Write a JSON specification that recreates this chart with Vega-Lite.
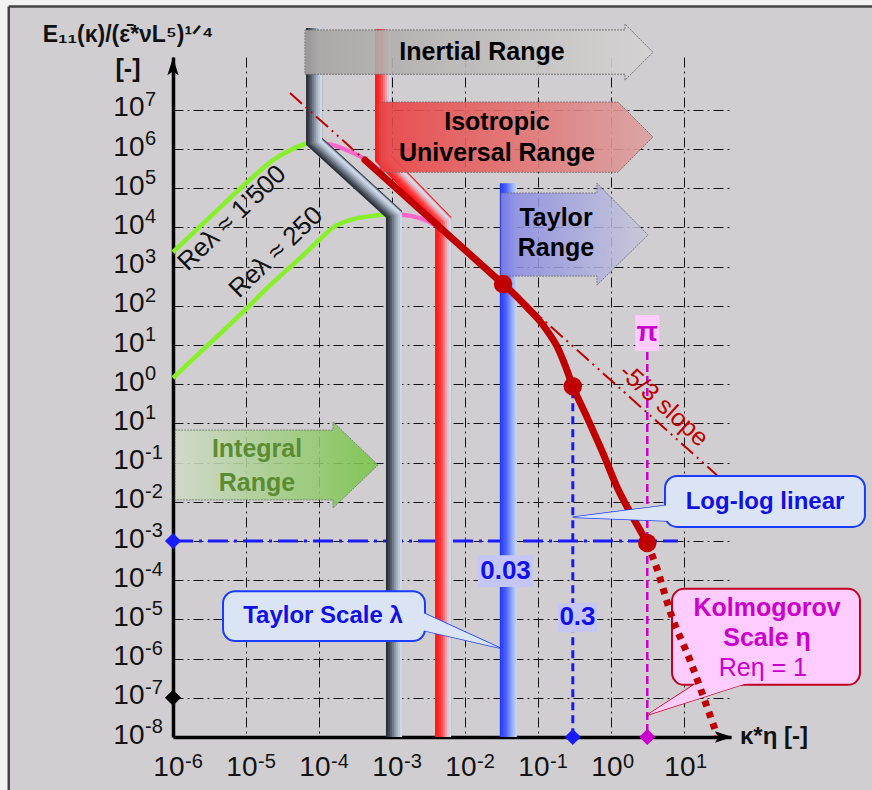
{
  "$schema": "https://vega.github.io/schema/vega-lite/v6.json",
  "width": 558,
  "height": 680,
  "autosize": {"type": "none"},
  "padding": {"left": 173, "top": 57, "right": 141, "bottom": 53},
  "background": "#d0ced0",
  "config": {"view": {"stroke": null}, "font": "Liberation Sans"},
  "datasets": {
    "margin": [
      {"x": -8.4, "y": 18.75, "x2": 4.2, "y2": 18.75, "w": 7},
      {"x": -8.32, "y": 18.75, "x2": -8.32, "y2": -2, "w": 9}
    ],
    "frame": [
      {"x": -8.25, "y": 18.64, "x2": 4.2, "y2": 18.64},
      {"x": -8.25, "y": 18.64, "x2": -8.25, "y2": -2}
    ],
    "xExponents": [
      {"x": -6, "y": 0, "t": "-6"}, {"x": -5, "y": 0, "t": "-5"}, {"x": -4, "y": 0, "t": "-4"},
      {"x": -3, "y": 0, "t": "-3"}, {"x": -2, "y": 0, "t": "-2"}, {"x": -1, "y": 0, "t": "-1"},
      {"x": 0, "y": 0, "t": "0"}, {"x": 1, "y": 0, "t": "1"}
    ],
    "yExponents": [
      {"x": -6, "y": 0, "t": "-8"}, {"x": -6, "y": 1, "t": "-7"}, {"x": -6, "y": 2, "t": "-6"},
      {"x": -6, "y": 3, "t": "-5"}, {"x": -6, "y": 4, "t": "-4"}, {"x": -6, "y": 5, "t": "-3"},
      {"x": -6, "y": 6, "t": "-2"}, {"x": -6, "y": 7, "t": "-1"}, {"x": -6, "y": 8, "t": "1"},
      {"x": -6, "y": 9, "t": "0"}, {"x": -6, "y": 10, "t": "1"}, {"x": -6, "y": 11, "t": "2"},
      {"x": -6, "y": 12, "t": "3"}, {"x": -6, "y": 13, "t": "4"}, {"x": -6, "y": 14, "t": "5"},
      {"x": -6, "y": 15, "t": "6"}, {"x": -6, "y": 16, "t": "7"}
    ],
    "lambdaSpectra": [
      {"curve": "Re1500", "seq": 1, "x": -6.0, "y": 12.37},
      {"curve": "Re1500", "seq": 2, "x": -5.452, "y": 13.34},
      {"curve": "Re1500", "seq": 3, "x": -4.904, "y": 14.29},
      {"curve": "Re1500", "seq": 4, "x": -4.63, "y": 14.72},
      {"curve": "Re1500", "seq": 5, "x": -4.397, "y": 14.97},
      {"curve": "Re1500", "seq": 6, "x": -4.192, "y": 15.13},
      {"curve": "Re1500", "seq": 7, "x": -4.068, "y": 15.18},
      {"curve": "Re250", "seq": 1, "x": -6.0, "y": 9.16},
      {"curve": "Re250", "seq": 2, "x": -5.493, "y": 10.05},
      {"curve": "Re250", "seq": 3, "x": -4.973, "y": 10.97},
      {"curve": "Re250", "seq": 4, "x": -4.712, "y": 11.45},
      {"curve": "Re250", "seq": 5, "x": -4.26, "y": 12.22},
      {"curve": "Re250", "seq": 6, "x": -3.986, "y": 12.7},
      {"curve": "Re250", "seq": 7, "x": -3.822, "y": 12.98},
      {"curve": "Re250", "seq": 8, "x": -3.575, "y": 13.19},
      {"curve": "Re250", "seq": 9, "x": -3.301, "y": 13.29},
      {"curve": "Re250", "seq": 10, "x": -3.055, "y": 13.34}
    ],
    "rollOff": [
      {"curve": "Re1500", "seq": 1, "x": -3.986, "y": 15.15},
      {"curve": "Re1500", "seq": 2, "x": -3.808, "y": 15.1},
      {"curve": "Re1500", "seq": 3, "x": -3.616, "y": 14.97},
      {"curve": "Re1500", "seq": 4, "x": -3.397, "y": 14.77},
      {"curve": "Re1500", "seq": 5, "x": -3.192, "y": 14.49},
      {"curve": "Re250", "seq": 1, "x": -3.0, "y": 13.34},
      {"curve": "Re250", "seq": 2, "x": -2.726, "y": 13.29},
      {"curve": "Re250", "seq": 3, "x": -2.507, "y": 13.16},
      {"curve": "Re250", "seq": 4, "x": -2.342, "y": 12.98}
    ],
    "pipes": [
      {"pipe": "inertial", "seq": 1, "x": -4.068, "y": 18.09},
      {"pipe": "inertial", "seq": 2, "x": -4.068, "y": 15.2},
      {"pipe": "inertial", "seq": 3, "x": -2.973, "y": 13.34},
      {"pipe": "inertial", "seq": 4, "x": -2.973, "y": 0},
      {"pipe": "isotropic", "seq": 1, "x": -3.123, "y": 18.06},
      {"pipe": "isotropic", "seq": 2, "x": -3.123, "y": 14.77},
      {"pipe": "isotropic", "seq": 3, "x": -2.301, "y": 13.19},
      {"pipe": "isotropic", "seq": 4, "x": -2.301, "y": 0}
    ],
    "taylorPipe": [{"x": -1.523, "x2": -1.29, "y": 14.13, "y2": 0}],
    "slope": [
      {"seq": 1, "x": -4.397, "y": 16.43},
      {"seq": 2, "x": 1.452, "y": 6.68}
    ],
    "spectrum": [
      {"seq": 1, "x": -3.37, "y": 14.72},
      {"seq": 2, "x": -1.479, "y": 11.556},
      {"seq": 3, "x": -1.342, "y": 11.33},
      {"seq": 4, "x": -1.137, "y": 10.94},
      {"seq": 5, "x": -0.973, "y": 10.61},
      {"seq": 6, "x": -0.836, "y": 10.26},
      {"seq": 7, "x": -0.74, "y": 9.97},
      {"seq": 8, "x": -0.63, "y": 9.49},
      {"seq": 9, "x": -0.523, "y": 8.95},
      {"seq": 10, "x": -0.329, "y": 8.16},
      {"seq": 11, "x": -0.11, "y": 7.24},
      {"seq": 12, "x": 0.082, "y": 6.38},
      {"seq": 13, "x": 0.26, "y": 5.74},
      {"seq": 14, "x": 0.397, "y": 5.28},
      {"seq": 15, "x": 0.497, "y": 4.95}
    ],
    "dissipation": [
      {"seq": 1, "x": 0.497, "y": 4.95},
      {"seq": 2, "x": 0.603, "y": 4.44},
      {"seq": 3, "x": 0.836, "y": 3.06},
      {"seq": 4, "x": 1.082, "y": 1.96},
      {"seq": 5, "x": 1.315, "y": 0.77},
      {"seq": 6, "x": 1.452, "y": 0.05}
    ],
    "markers": [
      {"x": -1.479, "y": 11.556},
      {"x": -0.523, "y": 8.95},
      {"x": 0.497, "y": 4.95}
    ],
    "levelLine": [{"x": -6, "x2": 0.918, "y": 5}],
    "scale03": [{"x": -0.523, "y": 8.85, "y2": 0}],
    "scalePi": [{"x": 0.497, "y": 9.82, "y2": 0}],
    "diamonds": [
      {"kind": "blue", "x": -6, "y": 5},
      {"kind": "black", "x": -6, "y": 1},
      {"kind": "blue", "x": -0.523, "y": 0},
      {"kind": "magenta", "x": 0.497, "y": 0}
    ],
    "inertialArrow": [
      {"x": -4.192, "y": 18.04, "y2": 16.91},
      {"x": 0.192, "y": 18.04, "y2": 16.91},
      {"x": 0.192, "y": 18.19, "y2": 16.76},
      {"x": 0.575, "y": 17.47, "y2": 17.47}
    ],
    "isotropicArrow": [
      {"x": -3.164, "y": 16.2, "y2": 14.41},
      {"x": 0.096, "y": 16.2, "y2": 14.41},
      {"x": 0.575, "y": 15.31, "y2": 15.31}
    ],
    "taylorArrow": [
      {"x": -1.507, "y": 13.88, "y2": 11.76},
      {"x": -0.192, "y": 13.88, "y2": 11.76},
      {"x": -0.192, "y": 14.13, "y2": 11.53},
      {"x": 0.507, "y": 12.81, "y2": 12.81}
    ],
    "integralArrow": [
      {"x": -5.97, "y": 7.83, "y2": 6.05},
      {"x": -3.808, "y": 7.83, "y2": 6.05},
      {"x": -3.808, "y": 8.04, "y2": 5.84},
      {"x": -3.192, "y": 6.94, "y2": 6.94}
    ],
    "rangeLabels": [
      {"text": "Inertial Range", "x": -1.767, "y": 17.47},
      {"text": "Isotropic", "x": -1.562, "y": 15.69},
      {"text": "Universal Range", "x": -1.562, "y": 14.9},
      {"text": "Taylor", "x": -0.753, "y": 13.24},
      {"text": "Range", "x": -0.753, "y": 12.47}
    ],
    "integralLabels": [
      {"text": "Integral", "x": -4.849, "y": 7.35},
      {"text": "Range", "x": -4.849, "y": 6.48}
    ],
    "valueBoxes": [
      {"x": -1.822, "x2": -1.068, "y": 4.64, "y2": 3.83},
      {"x": -0.726, "x2": -0.192, "y": 3.42, "y2": 2.68}
    ],
    "valueLabels": [
      {"text": "0.03", "x": -1.445, "y": 4.23},
      {"text": "0.3", "x": -0.459, "y": 3.05}
    ],
    "piBox": [{"x": 0.333, "x2": 0.661, "y": 10.77, "y2": 9.85}],
    "piLabel": [{"text": "π", "x": 0.497, "y": 10.31}],
    "kolBox": [{"x": 0.836, "x2": 3.411, "y": 3.78, "y2": 1.33}],
    "kolPointer": [
      {"y": 1.4, "x": 1.192, "x2": 1.904},
      {"y": 0.56, "x": 0.497, "x2": 0.497}
    ],
    "kolTitle": [
      {"text": "Kolmogorov", "x": 2.137, "y": 3.29},
      {"text": "Scale η", "x": 2.137, "y": 2.53}
    ],
    "kolRe": [{"text": "Reη = 1", "x": 2.08, "y": 1.76}],
    "logBox": [{"x": 0.74, "x2": 3.479, "y": 6.66, "y2": 5.36}],
    "logPointer": [
      {"x": -0.523, "y": 5.61, "y2": 5.61},
      {"x": 0.8, "y": 5.92, "y2": 5.51}
    ],
    "logLabel": [{"text": "Log-log linear", "x": 2.11, "y": 5.99}],
    "tsBox": [{"x": -5.315, "x2": -2.548, "y": 3.72, "y2": 2.45}],
    "tsPointer": [
      {"x": -2.6, "y": 3.19, "y2": 2.73},
      {"x": -1.523, "y": 2.27, "y2": 2.27}
    ],
    "tsLabel": [{"text": "Taylor Scale λ", "x": -3.945, "y": 3.09}],
    "reLabels": [
      {"text": "Reλ ≈ 1’500", "x": -5.192, "y": 13.24},
      {"text": "Reλ ≈ 250", "x": -4.589, "y": 12.37}
    ],
    "slopeLabel": [{"text": "-5/3 slope", "x": 0.726, "y": 8.47}],
    "yArrow": [{"x": -6, "y": 17.07}],
    "xArrow": [{"x": 1.521, "y": 0}],
    "yTitle": [
      {"text": "E₁₁(κ)/(ε̄*νL⁵)¹ᐟ⁴", "x": -6.616, "y": 17.91, "size": 23},
      {"text": "[-]", "x": -6.616, "y": 17.04, "size": 25}
    ],
    "xTitle": [{"text": "κ*η [-]", "x": 1.767, "y": 0}]
  },
  "encoding": {
    "x": {
      "field": "x",
      "type": "quantitative",
      "scale": {"domain": [-6, 1.644], "nice": false, "zero": false},
      "axis": {
        "values": [-6, -5, -4, -3, -2, -1, 0, 1],
        "labelExpr": "'10'",
        "title": null,
        "ticks": false,
        "domainColor": "#000000",
        "domainWidth": 3.5,
        "grid": true,
        "gridColor": "#111111",
        "gridDash": [10, 4, 2, 4],
        "gridWidth": 1,
        "labelFont": "Liberation Sans",
        "labelFontSize": 28,
        "labelColor": "#111111",
        "labelPadding": 16,
        "labelAlign": "right",
        "labelOffset": 11,
        "labelFlush": false,
        "labelOverlap": false
      }
    },
    "y": {
      "field": "y",
      "type": "quantitative",
      "scale": {"domain": [0, 17.35], "nice": false, "zero": false},
      "axis": {
        "values": [0, 1, 2, 3, 4, 5, 6, 7, 8, 9, 10, 11, 12, 13, 14, 15, 16],
        "labelExpr": "'10'",
        "title": null,
        "ticks": false,
        "domainColor": "#000000",
        "domainWidth": 3.5,
        "grid": true,
        "gridColor": "#111111",
        "gridDash": [10, 4, 2, 4],
        "gridWidth": 1,
        "labelFont": "Liberation Sans",
        "labelFontSize": 28,
        "labelColor": "#111111",
        "labelPadding": 29,
        "labelBaseline": "middle",
        "labelOffset": -2,
        "labelFlush": false,
        "labelOverlap": false
      }
    }
  },
  "layer": [
    {
      "data": {"name": "margin"},
      "mark": {"type": "rule", "color": "#f2f2f2"},
      "encoding": {"x2": {"field": "x2"}, "y2": {"field": "y2"}, "strokeWidth": {"field": "w", "type": "quantitative", "scale": null}}
    },
    {
      "data": {"name": "frame"},
      "mark": {"type": "rule", "color": "#444444", "strokeWidth": 2.5},
      "encoding": {"x2": {"field": "x2"}, "y2": {"field": "y2"}}
    },
    {
      "data": {"name": "xExponents"},
      "mark": {"type": "text", "font": "Liberation Sans", "fontSize": 20, "color": "#111111", "align": "left", "baseline": "middle", "dx": 12, "dy": 25},
      "encoding": {"text": {"field": "t"}}
    },
    {
      "data": {"name": "yExponents"},
      "mark": {"type": "text", "font": "Liberation Sans", "fontSize": 20, "color": "#111111", "align": "left", "baseline": "middle", "dx": -28, "dy": -10},
      "encoding": {"text": {"field": "t"}}
    },
    {
      "data": {"name": "levelLine"},
      "mark": {"type": "rule", "color": "#1a1aff", "strokeWidth": 3, "strokeDash": [20, 6, 3, 6]},
      "encoding": {"x2": {"field": "x2"}}
    },
    {
      "data": {"name": "lambdaSpectra"},
      "mark": {"type": "line", "color": "#88f02a", "strokeWidth": 4.5, "interpolate": "monotone"},
      "encoding": {"detail": {"field": "curve"}, "order": {"field": "seq"}}
    },
    {
      "data": {"name": "rollOff"},
      "mark": {"type": "line", "color": "#ff66cc", "strokeWidth": 4.5, "interpolate": "monotone"},
      "encoding": {"detail": {"field": "curve"}, "order": {"field": "seq"}}
    },
    {
      "data": {"name": "pipes"},
      "mark": {"type": "line", "strokeWidth": 16, "strokeJoin": "miter", "strokeCap": "butt", "xOffset": 0},
      "encoding": {"order": {"field": "seq"}, "color": {"field": "pipe", "scale": {"domain": ["inertial", "isotropic"], "range": ["#2c3038", "#ff1a1a"]}, "legend": null}}
    },
    {
      "data": {"name": "pipes"},
      "mark": {"type": "line", "strokeWidth": 14, "strokeJoin": "miter", "strokeCap": "butt", "xOffset": 1},
      "encoding": {"order": {"field": "seq"}, "color": {"field": "pipe", "scale": {"domain": ["inertial", "isotropic"], "range": ["#3f454f", "#ff2626"]}, "legend": null}}
    },
    {
      "data": {"name": "pipes"},
      "mark": {"type": "line", "strokeWidth": 12, "strokeJoin": "miter", "strokeCap": "butt", "xOffset": 2},
      "encoding": {"order": {"field": "seq"}, "color": {"field": "pipe", "scale": {"domain": ["inertial", "isotropic"], "range": ["#565e6a", "#ff3636"]}, "legend": null}}
    },
    {
      "data": {"name": "pipes"},
      "mark": {"type": "line", "strokeWidth": 10, "strokeJoin": "miter", "strokeCap": "butt", "xOffset": 3},
      "encoding": {"order": {"field": "seq"}, "color": {"field": "pipe", "scale": {"domain": ["inertial", "isotropic"], "range": ["#707a88", "#fc5056"]}, "legend": null}}
    },
    {
      "data": {"name": "pipes"},
      "mark": {"type": "line", "strokeWidth": 8, "strokeJoin": "miter", "strokeCap": "butt", "xOffset": 4},
      "encoding": {"order": {"field": "seq"}, "color": {"field": "pipe", "scale": {"domain": ["inertial", "isotropic"], "range": ["#8c97a6", "#f2787e"]}, "legend": null}}
    },
    {
      "data": {"name": "pipes"},
      "mark": {"type": "line", "strokeWidth": 6, "strokeJoin": "miter", "strokeCap": "butt", "xOffset": 5},
      "encoding": {"order": {"field": "seq"}, "color": {"field": "pipe", "scale": {"domain": ["inertial", "isotropic"], "range": ["#a6b2c2", "#e8a2aa"]}, "legend": null}}
    },
    {
      "data": {"name": "pipes"},
      "mark": {"type": "line", "strokeWidth": 4, "strokeJoin": "miter", "strokeCap": "butt", "xOffset": 6},
      "encoding": {"order": {"field": "seq"}, "color": {"field": "pipe", "scale": {"domain": ["inertial", "isotropic"], "range": ["#bcc8d8", "#dcc4d2"]}, "legend": null}}
    },
    {
      "data": {"name": "pipes"},
      "mark": {"type": "line", "strokeWidth": 2, "strokeJoin": "miter", "strokeCap": "butt", "xOffset": 7},
      "encoding": {"order": {"field": "seq"}, "color": {"field": "pipe", "scale": {"domain": ["inertial", "isotropic"], "range": ["#cdd8e8", "#d2dcee"]}, "legend": null}}
    },
    {
      "data": {"name": "taylorPipe"},
      "mark": {
        "type": "rect",
        "fill": {"gradient": "linear", "x1": 0, "y1": 0, "x2": 1, "y2": 0, "stops": [
          {"offset": 0, "color": "#2236ff"},
          {"offset": 0.4, "color": "#5068ff"},
          {"offset": 0.75, "color": "#9cb2f2"},
          {"offset": 1, "color": "#ccd8f0"}
        ]}
      },
      "encoding": {"x2": {"field": "x2"}, "y2": {"field": "y2"}}
    },
    {
      "data": {"name": "slope"},
      "mark": {"type": "line", "color": "#c00000", "strokeWidth": 2, "strokeDash": [16, 5, 2, 5, 2, 5]},
      "encoding": {"order": {"field": "seq"}}
    },
    {
      "data": {"name": "inertialArrow"},
      "mark": {
        "type": "area",
        "opacity": 0.9,
        "stroke": "#6a6a6a",
        "strokeWidth": 1,
        "strokeDash": [2, 1],
        "fill": {"gradient": "linear", "x1": 0, "y1": 0, "x2": 1, "y2": 0, "stops": [
          {"offset": 0, "color": "#a8a4a4"},
          {"offset": 1, "color": "#d6d4d4"}
        ]}
      },
      "encoding": {"y2": {"field": "y2"}}
    },
    {
      "data": {"name": "isotropicArrow"},
      "mark": {
        "type": "area",
        "opacity": 0.9,
        "stroke": "#7a6a6a",
        "strokeWidth": 1,
        "strokeDash": [2, 1],
        "fill": {"gradient": "linear", "x1": 0, "y1": 0, "x2": 1, "y2": 0, "stops": [
          {"offset": 0, "color": "#ec4040"},
          {"offset": 1, "color": "#dca2a2"}
        ]}
      },
      "encoding": {"y2": {"field": "y2"}}
    },
    {
      "data": {"name": "taylorArrow"},
      "mark": {
        "type": "area",
        "opacity": 0.85,
        "stroke": "#6a6a7a",
        "strokeWidth": 1,
        "strokeDash": [2, 1],
        "fill": {"gradient": "linear", "x1": 0, "y1": 0, "x2": 1, "y2": 0, "stops": [
          {"offset": 0, "color": "#8486e4"},
          {"offset": 1, "color": "#c8c8da"}
        ]}
      },
      "encoding": {"y2": {"field": "y2"}}
    },
    {
      "data": {"name": "integralArrow"},
      "mark": {
        "type": "area",
        "opacity": 0.88,
        "stroke": "#6a7a6a",
        "strokeWidth": 1,
        "strokeDash": [2, 1],
        "fill": {"gradient": "linear", "x1": 0, "y1": 0, "x2": 1, "y2": 0, "stops": [
          {"offset": 0, "color": "#d2dacb"},
          {"offset": 1, "color": "#78c446"}
        ]}
      },
      "encoding": {"y2": {"field": "y2"}}
    },
    {
      "data": {"name": "rangeLabels"},
      "mark": {"type": "text", "font": "Liberation Sans", "fontSize": 25, "fontWeight": "bold", "color": "#000000"},
      "encoding": {"text": {"field": "text"}}
    },
    {
      "data": {"name": "integralLabels"},
      "mark": {"type": "text", "font": "Liberation Sans", "fontSize": 25, "fontWeight": "bold", "color": "#5a8c32"},
      "encoding": {"text": {"field": "text"}}
    },
    {
      "data": {"name": "scale03"},
      "mark": {"type": "rule", "color": "#1a1aee", "strokeWidth": 3, "strokeDash": [8, 5]},
      "encoding": {"y2": {"field": "y2"}}
    },
    {
      "data": {"name": "scalePi"},
      "mark": {"type": "rule", "color": "#cc00cc", "strokeWidth": 2.5, "strokeDash": [8, 4]},
      "encoding": {"y2": {"field": "y2"}}
    },
    {
      "data": {"name": "diamonds"},
      "mark": {"type": "point", "shape": "diamond", "filled": true, "size": 260, "opacity": 1},
      "encoding": {"color": {"field": "kind", "scale": {"domain": ["blue", "black", "magenta"], "range": ["#1a1aff", "#000000", "#cc00cc"]}, "legend": null}}
    },
    {
      "data": {"name": "valueBoxes"},
      "mark": {"type": "rect", "color": "#c6c6f6"},
      "encoding": {"x2": {"field": "x2"}, "y2": {"field": "y2"}}
    },
    {
      "data": {"name": "valueLabels"},
      "mark": {"type": "text", "font": "Liberation Sans", "fontSize": 26, "fontWeight": "bold", "color": "#1010ee"},
      "encoding": {"text": {"field": "text"}}
    },
    {
      "data": {"name": "piBox"},
      "mark": {"type": "rect", "color": "#ffccff"},
      "encoding": {"x2": {"field": "x2"}, "y2": {"field": "y2"}}
    },
    {
      "data": {"name": "piLabel"},
      "mark": {"type": "text", "font": "Liberation Sans", "fontSize": 28, "fontWeight": "bold", "color": "#cc00cc"},
      "encoding": {"text": {"field": "text"}}
    },
    {
      "data": {"name": "kolPointer"},
      "mark": {"type": "area", "orient": "horizontal", "fill": "#ffccff", "stroke": "#c00020", "strokeWidth": 1.5},
      "encoding": {"x2": {"field": "x2"}}
    },
    {
      "data": {"name": "kolBox"},
      "mark": {"type": "rect", "fill": "#ffccff", "stroke": "#c00020", "strokeWidth": 2, "cornerRadius": 12},
      "encoding": {"x2": {"field": "x2"}, "y2": {"field": "y2"}}
    },
    {
      "data": {"name": "kolPointer"},
      "mark": {"type": "area", "orient": "horizontal", "fill": "#ffccff"},
      "encoding": {"x2": {"field": "x2"}}
    },
    {
      "data": {"name": "kolTitle"},
      "mark": {"type": "text", "font": "Liberation Sans", "fontSize": 25, "fontWeight": "bold", "color": "#cc00cc"},
      "encoding": {"text": {"field": "text"}}
    },
    {
      "data": {"name": "kolRe"},
      "mark": {"type": "text", "font": "Liberation Sans", "fontSize": 25, "color": "#cc00cc"},
      "encoding": {"text": {"field": "text"}}
    },
    {
      "data": {"name": "spectrum"},
      "mark": {"type": "line", "color": "#c00000", "strokeWidth": 7, "interpolate": "monotone", "strokeCap": "round"},
      "encoding": {"order": {"field": "seq"}}
    },
    {
      "data": {"name": "dissipation"},
      "mark": {"type": "line", "color": "#c00000", "strokeWidth": 7, "strokeDash": [6, 6], "interpolate": "monotone"},
      "encoding": {"order": {"field": "seq"}}
    },
    {
      "data": {"name": "markers"},
      "mark": {"type": "point", "shape": "circle", "filled": true, "size": 340, "color": "#c00000", "opacity": 1}
    },
    {
      "data": {"name": "logPointer"},
      "mark": {"type": "area", "fill": "#dae4f4", "stroke": "#1a3cff", "strokeWidth": 1.5},
      "encoding": {"y2": {"field": "y2"}}
    },
    {
      "data": {"name": "logBox"},
      "mark": {"type": "rect", "fill": "#dae4f4", "stroke": "#1a3cff", "strokeWidth": 2, "cornerRadius": 12},
      "encoding": {"x2": {"field": "x2"}, "y2": {"field": "y2"}}
    },
    {
      "data": {"name": "logPointer"},
      "mark": {"type": "area", "fill": "#dae4f4"},
      "encoding": {"y2": {"field": "y2"}}
    },
    {
      "data": {"name": "logLabel"},
      "mark": {"type": "text", "font": "Liberation Sans", "fontSize": 24, "fontWeight": "bold", "color": "#1010e6"},
      "encoding": {"text": {"field": "text"}}
    },
    {
      "data": {"name": "tsPointer"},
      "mark": {"type": "area", "fill": "#dae4f4", "stroke": "#1a3cff", "strokeWidth": 1.5},
      "encoding": {"y2": {"field": "y2"}}
    },
    {
      "data": {"name": "tsBox"},
      "mark": {"type": "rect", "fill": "#dae4f4", "stroke": "#1a3cff", "strokeWidth": 2, "cornerRadius": 12},
      "encoding": {"x2": {"field": "x2"}, "y2": {"field": "y2"}}
    },
    {
      "data": {"name": "tsPointer"},
      "mark": {"type": "area", "fill": "#dae4f4"},
      "encoding": {"y2": {"field": "y2"}}
    },
    {
      "data": {"name": "tsLabel"},
      "mark": {"type": "text", "font": "Liberation Sans", "fontSize": 24, "fontWeight": "bold", "color": "#1010e6"},
      "encoding": {"text": {"field": "text"}}
    },
    {
      "data": {"name": "reLabels"},
      "mark": {"type": "text", "font": "Liberation Sans", "fontSize": 26, "color": "#111111", "angle": -44},
      "encoding": {"text": {"field": "text"}}
    },
    {
      "data": {"name": "slopeLabel"},
      "mark": {"type": "text", "font": "Liberation Sans", "fontSize": 25, "color": "#c00000", "angle": 42},
      "encoding": {"text": {"field": "text"}}
    },
    {
      "data": {"name": "yArrow"},
      "mark": {"type": "point", "shape": "M0,-1L0.55,0.7L0,0.35L-0.55,0.7Z", "filled": true, "size": 420, "color": "#000000", "opacity": 1}
    },
    {
      "data": {"name": "xArrow"},
      "mark": {"type": "point", "shape": "M1,0L-0.7,0.55L-0.35,0L-0.7,-0.55Z", "filled": true, "size": 420, "color": "#000000", "opacity": 1}
    },
    {
      "data": {"name": "yTitle"},
      "mark": {"type": "text", "font": "Liberation Sans", "fontWeight": "bold", "color": "#111111"},
      "encoding": {"text": {"field": "text"}, "size": {"field": "size", "type": "quantitative", "scale": null}}
    },
    {
      "data": {"name": "xTitle"},
      "mark": {"type": "text", "font": "Liberation Sans", "fontSize": 24, "fontWeight": "bold", "color": "#111111", "align": "left"},
      "encoding": {"text": {"field": "text"}}
    }
  ],
  "resolve": {"scale": {"color": "independent"}}
}
